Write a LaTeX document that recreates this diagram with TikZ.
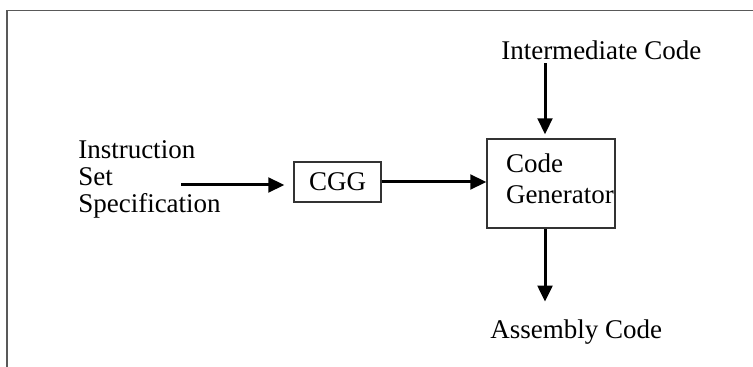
\documentclass[tikz,border=0pt]{standalone}
\usepackage{fontspec}
\setmainfont{Liberation Serif}
\usetikzlibrary{arrows.meta,positioning}

\begin{document}
\begin{tikzpicture}[x=0.75pt,y=-0.75pt,
    every node/.style={font=\fontsize{20.25}{20.25}\selectfont, inner sep=0pt},
    box/.style={draw=black!80, line width=1pt},
    arr/.style={line width=2.25pt, -{Triangle[length=12pt,width=11pt]}},
    frame/.style={draw=black!65, line width=1.1pt}]
    \useasboundingbox (0,0) rectangle (753,367);

    % Frame
    \draw[frame] (7,367) -- (7,10.5) -- (753,10.5);

    % Labels
    \node[anchor=north west, align=left] (spec) at (78,140) {Instruction\\Set\\Specification};
    \node[anchor=base west] (intermediate) at (501,60) {Intermediate Code};
    \node[anchor=base west] (assembly) at (490,338) {Assembly Code};

    % Boxes
    \node[box, minimum width=65.25pt, minimum height=30pt] (cgg) at (337.5,182) {CGG};
    \node[box, minimum width=96pt, minimum height=66.75pt, text width=67.5pt,
          inner xsep=14.25pt, align=left, text depth=30pt,
          font=\fontsize{20.25}{23.25}\selectfont] (generator) at (551,183.5) {Code\\Generator};

    % Points
    \coordinate (setend) at (181,185);
    \coordinate (gentop) at ([xshift=-4.5pt,yshift=3pt]generator.north);
    \coordinate (genbot) at ([xshift=-4.5pt]generator.south);

    % Arrows
    \draw[arr, shorten >=6.75pt] (setend) -- (setend -| cgg.west);
    \draw[arr] (cgg.east) -- (cgg.east -| generator.west);
    \draw[arr, shorten <=2pt] (intermediate.south -| gentop) -- (gentop);
    \draw[arr, shorten >=13pt] (genbot) -- (genbot |- assembly.north);
\end{tikzpicture}
\end{document}
